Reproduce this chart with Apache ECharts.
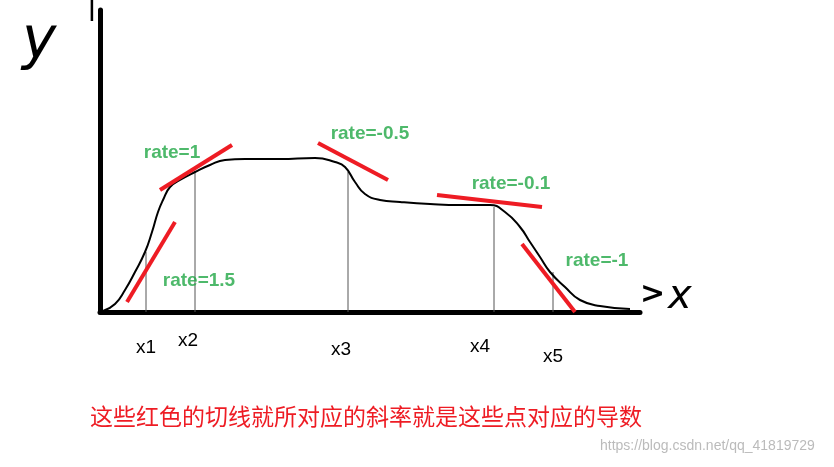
<!DOCTYPE html>
<html>
<head>
<meta charset="utf-8">
<script src="https://cdn.jsdelivr.net/npm/echarts@6/dist/echarts.min.js"></script>
<style>html,body{margin:0;background:#fff}#c{width:834px;height:467px}</style>
</head>
<body>
<div id="c"></div>
<script>
// hand drawn curve (x, height above the x axis)
var curveX = [103,115,125,135,145,152,158,163,170,180,195,210,225,245,280,315,335,345,355,365,380,400,430,460,490,505,520,530,540,550,565,580,600,630];
var curveY = [1,8,22,40,60,80,100,112,125,132,140,147,152,153,153,154,150,145,130,118,112,110,108,107,107,100,85,70,55,40,25,12,6,3];
// tangent lines [x0,y0,x1,y1]
var tangents = [[160,122,232,167],[318,169,388,132],[437,117,542,105],[522,68,575,0],[127,10,175,90]];
// drop lines under points
var dropX = [146,195,348,494,553];
var dropY = [60,140,140,105,40];
var pointNames = ['x1','x2','x3','x4','x5'];
var pointLabelPos = [[136,338],[178,331],[331,340],[470,337],[543,347]];
var rateText = ['rate=1','rate=-0.5','rate=-0.1','rate=-1','rate=1.5'];
var ratePos = [[172,159],[370,178],[511,128],[597,51],[199,31]];
var caption = '这些红色的切线就所对应的斜率就是这些点对应的导数';

var chart = echarts.init(document.getElementById('c'));
var series = [];
series.push({type:'line', data:curveX.map(function(x,i){return [x,curveY[i]];}), smooth:true, symbol:'none',
  lineStyle:{color:'#000', width:2}, z:3});
tangents.forEach(function(t){
  series.push({type:'line', data:[[t[0],t[1]],[t[2],t[3]]], symbol:'none', lineStyle:{color:'#ee1c24', width:4}, z:4});
});
dropX.forEach(function(x,i){
  series.push({type:'line', data:[[x,0],[x,dropY[i]]], symbol:'none', lineStyle:{color:'#555', width:1}, z:2});
});
series.push({type:'scatter', symbolSize:0, data:rateText.map(function(n,i){return {value:ratePos[i], name:n};}),
  label:{show:true, formatter:'{b}', color:'#22a846', fontSize:19, fontWeight:'bold', fontFamily:'Liberation Sans'}});

var graphics = [
  {type:'text', left:22, top:14, style:{text:'y', font:'italic 58px DejaVu Sans', fill:'#000'}},
  {type:'text', left:88, top:0, style:{text:'l', font:'28px DejaVu Sans', fill:'#000'}},
  {type:'text', left:640, top:280, style:{text:'>', font:'bold 30px DejaVu Sans', fill:'#000'}},
  {type:'text', left:668, top:278, style:{text:'x', font:'italic 40px DejaVu Sans', fill:'#000'}},
  {type:'text', left:90, top:405, style:{text:caption, font:'23px "Noto Sans CJK SC"', fill:'#ee1c24'}},
  {type:'text', left:600, top:439, style:{text:'https://blog.csdn.net/qq_41819729', font:'14px "Liberation Sans"', fill:'#bbb'}}
];
pointNames.forEach(function(n,i){
  graphics.push({type:'text', left:pointLabelPos[i][0], top:pointLabelPos[i][1], style:{text:n, font:'19px "Liberation Sans"', fill:'#000'}});
});

chart.setOption({
  animation:false,
  grid:{left:100, right:194, top:10, bottom:155, containLabel:false},
  xAxis:{type:'value', min:100, max:640, axisLine:{lineStyle:{color:'#000', width:5}}, axisTick:{show:false}, axisLabel:{show:false}, splitLine:{show:false}},
  yAxis:{type:'value', min:0, max:302, axisLine:{show:true, lineStyle:{color:'#000', width:5}}, axisTick:{show:false}, axisLabel:{show:false}, splitLine:{show:false}},
  series:series,
  graphic:graphics
});
</script>
</body>
</html>
